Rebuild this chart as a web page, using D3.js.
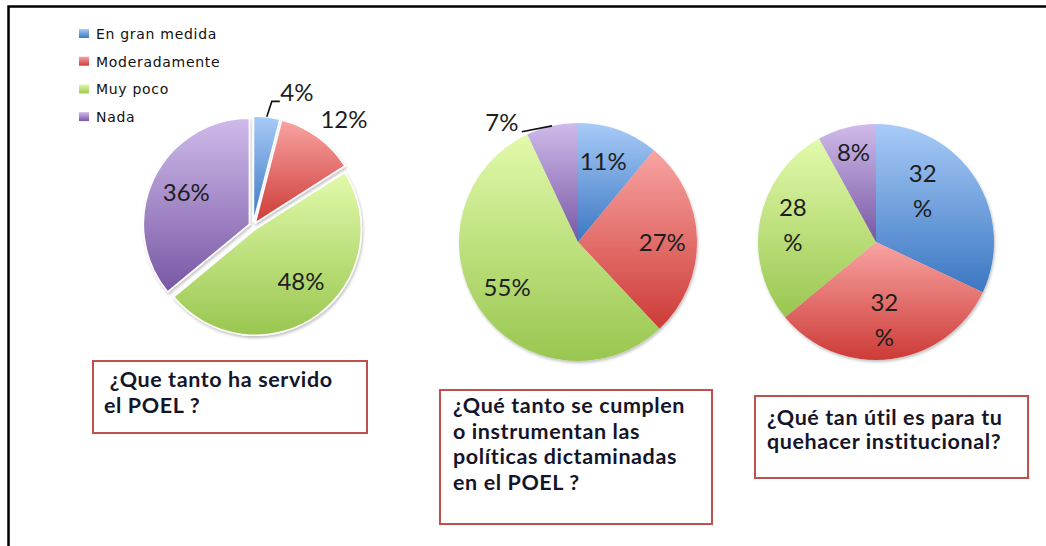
<!DOCTYPE html>
<html>
<head>
<meta charset="utf-8">
<script src="https://cdn.jsdelivr.net/npm/d3@7"></script>
<style>
  body { margin: 0; background: #fff; }
  svg { display: block; }
</style>
</head>
<body>
<svg width="1046" height="546"></svg>
<script>
// data
const categories = ['En gran medida', 'Moderadamente', 'Muy poco', 'Nada']
const servidoValues = [4, 12, 48, 36]
const cumplenValues = [11, 27, 55, 7]
const utilValues = [32, 32, 28, 8]
const questions = [
  [' ¿Que tanto ha servido', 'el POEL ?'],
  ['¿Qué tanto se cumplen', 'o instrumentan las', 'políticas dictaminadas', 'en el POEL ?'],
  ['¿Qué tan útil es para tu', 'quehacer institucional?']
]

// gradient colours, top -> bottom
const sliceColors = [
  ['#a8cbf8', '#3b77c2'], // blue
  ['#f8a4a2', '#cd3b37'], // red
  ['#e2faab', '#99c650'], // green
  ['#cfbbea', '#7857a4'] // purple
]

// layout (positions kept apart from data)
const pies = [
  {values: servidoValues, cx: 253, cy: 226, r: 106, explode: 4, wrap: [false, false, false, false],
    nudge: [[34, -56], [45, -43], [2, -8], [4, 0]],
    leader: {slice: 0, pts: [[-25, 9], [-17, 9]]},
    box: {x: 93, y: 361, w: 274, h: 72, tx: 104, ty: 387, lh: 26}},
  {values: cumplenValues, cx: 578, cy: 242, r: 119, explode: 0, wrap: [false, false, false, false],
    nudge: [[-3, -2], [1, 3], [-2, -1], [-58, -38]],
    leader: {slice: 3, pts: [[20, 9]]},
    box: {x: 440, y: 390, w: 272, h: 134, tx: 453, ty: 413, lh: 25.5}},
  {values: utilValues, cx: 876, cy: 242, r: 118, explode: 0, wrap: [true, true, true, false],
    nudge: [[-23, -7], [-2, -4], [-2, -1], [-2, -9]],
    leader: null,
    box: {x: 755, y: 396, w: 273, h: 82, tx: 767, ty: 425, lh: 24}}
]

let svg = d3.select('svg')
let defs = svg.append('defs')

sliceColors.forEach(function (c, i) {
  let g = defs.append('linearGradient')
    .attr('id', 'grad' + i)
    .attr('x1', 0).attr('y1', 0).attr('x2', 0).attr('y2', 1)
  g.append('stop').attr('offset', '0%').attr('stop-color', c[0])
  g.append('stop').attr('offset', '100%').attr('stop-color', c[1])
})

let shadow = defs.append('filter').attr('id', 'soft')
  .attr('x', '-10%').attr('y', '-10%').attr('width', '120%').attr('height', '120%')
shadow.append('feGaussianBlur').attr('in', 'SourceAlpha').attr('stdDeviation', 1.5)
shadow.append('feOffset').attr('dx', 1).attr('dy', 1.5).attr('result', 'b')
shadow.append('feComponentTransfer').append('feFuncA').attr('type', 'linear').attr('slope', 0.25)
let merge = shadow.append('feMerge')
merge.append('feMergeNode')
merge.append('feMergeNode').attr('in', 'SourceGraphic')

// frame
svg.append('path')
  .attr('d', 'M8.5,546V6.5H1046')
  .attr('fill', 'none')
  .attr('stroke', '#000')
  .attr('stroke-width', 2.5)

// legend
let legend = svg.append('g').attr('transform', 'translate(79,34)')
categories.forEach(function (name, i) {
  let row = legend.append('g').attr('transform', 'translate(0,' + (i * 27.7) + ')')
  row.append('rect')
    .attr('x', 0).attr('y', -5)
    .attr('width', 10).attr('height', 9)
    .attr('fill', 'url(#grad' + i + ')')
  row.append('text')
    .attr('x', 17).attr('y', 0)
    .attr('dy', '0.35em')
    .attr('font-family', 'DejaVu Sans')
    .attr('font-size', 14)
    .attr('letter-spacing', 0.7)
    .attr('fill', '#111')
    .text(name)
})

let pie = d3.pie().sort(null).value(d => d)

function drawPie (p) {
  let arcs = pie(p.values)
  let arc = d3.arc().innerRadius(0).outerRadius(p.r)
  let mid = d => (d.startAngle + d.endAngle) / 2
  let g = svg.append('g').attr('transform', 'translate(' + p.cx + ',' + p.cy + ')')

  g.append('g').attr('filter', 'url(#soft)')
    .selectAll('path')
    .data(arcs)
    .join('path')
    .attr('transform', d => 'translate(' + (Math.sin(mid(d)) * p.explode) + ',' + (-Math.cos(mid(d)) * p.explode) + ')')
    .attr('d', arc)
    .attr('fill', (d, i) => 'url(#grad' + i + ')')
    .attr('stroke', p.explode ? '#fff' : 'none')
    .attr('stroke-width', 1.5)

  let labelArc = d3.arc().innerRadius(0.7 * p.r).outerRadius(0.7 * p.r)
  let pos = arcs.map(function (d, i) {
    let c = labelArc.centroid(d)
    let ex = Math.sin(mid(d)) * p.explode
    let ey = -Math.cos(mid(d)) * p.explode
    return [c[0] + ex + p.nudge[i][0], c[1] + ey + p.nudge[i][1]]
  })

  if (p.leader) {
    let d = arcs[p.leader.slice]
    let a = mid(d)
    let rr = p.r + p.explode
    let start = [Math.sin(a) * rr, -Math.cos(a) * rr]
    let lp = pos[p.leader.slice]
    let pts = [start].concat(p.leader.pts.map(q => [lp[0] + q[0], lp[1] + q[1]]))
    g.append('path')
      .attr('d', d3.line()(pts))
      .attr('fill', 'none')
      .attr('stroke', '#111')
      .attr('stroke-width', 1.6)
  }

  arcs.forEach(function (d, i) {
    let lines = p.wrap[i] ? [String(d.data), '%'] : [d.data + '%']
    let lh = 35
    let t = g.append('text')
      .attr('text-anchor', 'middle')
      .attr('font-family', 'Lato')
      .attr('font-size', 24)
      .attr('fill', '#1e1e1e')
    lines.forEach(function (s, k) {
      t.append('tspan')
        .attr('x', pos[i][0])
        .attr('y', pos[i][1] + (k - (lines.length - 1) / 2) * lh)
        .attr('dy', '0.35em')
        .text(s)
    })
  })
}

function drawBox (b, lines) {
  svg.append('rect')
    .attr('x', b.x).attr('y', b.y)
    .attr('width', b.w).attr('height', b.h)
    .attr('fill', '#fff')
    .attr('stroke', '#c0504d')
    .attr('stroke-width', 2)
  let t = svg.append('text')
    .attr('font-family', 'Lato')
    .attr('font-weight', 'bold')
    .attr('font-size', 21.5)
    .attr('letter-spacing', 0.6)
    .attr('fill', '#15152a')
    .style('white-space', 'pre')
  lines.forEach(function (s, k) {
    t.append('tspan')
      .attr('x', b.tx)
      .attr('y', b.ty + k * b.lh)
      .text(s)
  })
}

pies.forEach(function (p, i) {
  drawPie(p)
  drawBox(p.box, questions[i])
})
</script>
</body>
</html>
